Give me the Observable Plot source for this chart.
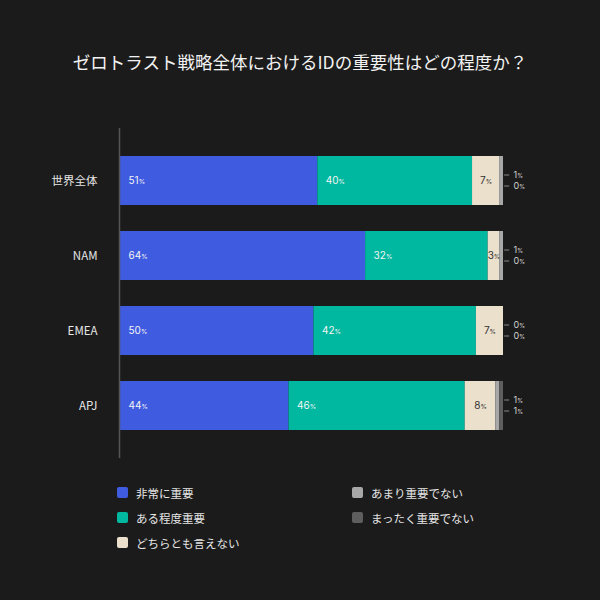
<!DOCTYPE html>
<html>
<head>
<meta charset="utf-8">
<script src="https://cdn.jsdelivr.net/npm/d3@7"></script>
<script src="https://cdn.jsdelivr.net/npm/@observablehq/plot@0.6"></script>
<style>
  html, body { margin: 0; padding: 0; background: #1b1b1b; }
  body { width: 600px; height: 600px; overflow: hidden; font-family: Inter, "Noto Sans CJK JP", sans-serif; }
  #title { height: 100px; box-sizing: border-box; padding-top: 50px; line-height: 24px; text-align: center; color: #f2f2f2; font-size: 17.5px; font-family: "Noto Sans CJK JP", sans-serif; }
  #chart svg { display: block; }
  #legend { display: grid; grid-template-columns: 235px 235px; grid-template-rows: 25px 25px 25px; grid-auto-flow: column; padding-left: 117px; padding-top: 10px; }
  .item { display: flex; align-items: center; color: #e6e6e6; font-size: 11.5px; font-family: "Noto Sans CJK JP", sans-serif; }
  .sw { width: 11px; height: 11px; border-radius: 2px; margin-right: 8px; }
</style>
</head>
<body>
<div id="title">ゼロトラスト戦略全体におけるIDの重要性はどの程度か？</div>
<div id="chart"></div>
<div id="legend"></div>
<script>
const regions = ["世界全体", "NAM", "EMEA", "APJ"];
const categories = ["非常に重要", "ある程度重要", "どちらとも言えない", "あまり重要でない", "まったく重要でない"];
const colors = ["#3f5be0", "#00b89f", "#ebe0cc", "#a8a8a8", "#5e5e5e"];
const veryImportant = [51, 64, 50, 44];
const somewhatImportant = [40, 32, 42, 46];
const neutral = [7, 3, 7, 8];
const notVery = [1, 1, 0, 1];
const notAtAll = [0, 0, 0, 1];

const series = [veryImportant, somewhatImportant, neutral, notVery, notAtAll];
const data = [];
regions.forEach((r, i) => {
  categories.forEach((c, j) => {
    data.push({region: r, cat: c, idx: j, value: series[j][i]});
  });
});
const notVeryData = data.filter(d => d.idx === 3);
const notAtAllData = data.filter(d => d.idx === 4);

const stackOpts = {x: "value", y: "region", z: "cat", order: categories, offset: "normalize"};

const plot = Plot.plot({
  width: 600,
  height: 370,
  marginTop: 28,
  marginBottom: 12,
  marginLeft: 120,
  marginRight: 97,
  style: {background: "transparent", color: "#e6e6e6", fontFamily: "Inter, 'Noto Sans CJK JP', sans-serif"},
  x: {domain: [0, 1], axis: null},
  y: {domain: regions, padding: 0.35, label: null},
  color: {domain: categories, range: colors},
  marks: [
    Plot.barX(data, Plot.stackX({...stackOpts, fill: "cat"})),
    Plot.ruleX([0], {stroke: "#555", strokeWidth: 1.5, dx: -1}),
    Plot.text(data, Plot.stackX1({...stackOpts, text: d => d.idx < 2 ? d.value + "%" : "", textAnchor: "start", dx: 8, fill: "#f4f4f4", fontSize: 10})),
    Plot.text(data, Plot.stackX({...stackOpts, text: d => d.idx === 2 ? d.value + "%" : "", fill: "#333", fontSize: 10})),
    Plot.ruleY(notVeryData, {y: "region", x1: () => 1.003, x2: () => 1.016, dy: -6, stroke: "#888"}),
    Plot.ruleY(notAtAllData, {y: "region", x1: () => 1.003, x2: () => 1.016, dy: 5, stroke: "#888"}),
    Plot.text(notVeryData, {x: () => 1, y: "region", text: d => d.value + "%", dx: 10, dy: -6, textAnchor: "start", fill: "#d0d0d0", fontSize: 9}),
    Plot.text(notAtAllData, {x: () => 1, y: "region", text: d => d.value + "%", dx: 10, dy: 5, textAnchor: "start", fill: "#d0d0d0", fontSize: 9}),
    Plot.axisY({tickSize: 0, tickPadding: 23, fontSize: 11.5, fill: "#e6e6e6", label: null, fontFamily: "'Noto Sans CJK JP', sans-serif"})
  ]
});

// smaller percent sign
plot.querySelectorAll("text").forEach(t => {
  const m = /^(\d+)%$/.exec(t.textContent);
  if (m) {
    t.textContent = m[1];
    const ts = document.createElementNS("http://www.w3.org/2000/svg", "tspan");
    ts.setAttribute("font-size", "0.65em");
    ts.textContent = "%";
    t.appendChild(ts);
  }
});

document.getElementById("chart").appendChild(plot);

const legend = document.getElementById("legend");
categories.forEach((c, j) => {
  const item = document.createElement("div");
  item.className = "item";
  const sw = document.createElement("span");
  sw.className = "sw";
  sw.style.background = colors[j];
  const lb = document.createElement("span");
  lb.textContent = c;
  item.appendChild(sw);
  item.appendChild(lb);
  legend.appendChild(item);
});
</script>
</body>
</html>
